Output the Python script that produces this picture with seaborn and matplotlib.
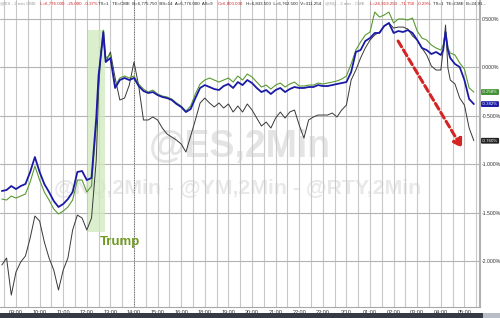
import numpy as np
import pandas as pd
import matplotlib
matplotlib.use("Agg")
import matplotlib.pyplot as plt
import seaborn as sns
from matplotlib.patches import Rectangle

# time in trading hours after 09:00 (session break compressed)
times = [-0.6, -0.4, -0.2, 0.0, 0.2, 0.4, 0.6, 0.8, 1.0, 1.2, 1.4, 1.6, 1.8, 2.0, 2.2, 2.4, 2.6, 2.8, 3.0, 3.2, 3.4,
         3.5, 3.6, 3.7, 3.8,
         4.0, 4.2, 4.4, 4.6, 4.8, 5.0, 5.2, 5.4, 5.6, 5.8, 6.0, 6.2, 6.4, 6.6, 6.8, 7.0, 7.2, 7.4, 7.6, 7.8,
         8.0, 8.2, 8.4, 8.6, 8.8, 9.0, 9.2, 9.4, 9.6, 9.8, 10.0, 10.2, 10.4, 10.6, 10.8, 11.0, 11.2, 11.4, 11.6, 11.8,
         12.0, 12.2, 12.4, 12.6, 12.8, 13.0, 13.2, 13.4, 13.6, 13.8, 14.0, 14.2, 14.4, 14.6, 14.8, 15.0, 15.2, 15.4,
         15.6, 15.8, 16.0, 16.2, 16.4, 16.6, 16.8, 17.0, 17.2, 17.4, 17.6, 17.8, 18.0,
         18.1, 18.2, 18.3,
         18.4, 18.6, 18.8, 19.0, 19.2, 19.4]

es = [-1.278, -1.268, -1.227, -1.258, -1.227, -1.206, -1.082, -0.928, -1.082, -1.206, -1.289, -1.381, -1.443, -1.412,
      -1.361, -1.289, -1.082, -1.072, -1.165, -1.144, -0.526,
      -0.082, 0.124, 0.361, 0.052,
      0.093, -0.216, -0.134, -0.113, -0.134, -0.113, -0.196, -0.247, -0.268, -0.258, -0.289, -0.309, -0.320, -0.340,
      -0.381, -0.412, -0.464, -0.433, -0.320, -0.216, -0.186, -0.206, -0.227, -0.237, -0.196, -0.175, -0.216, -0.155,
      -0.186, -0.134, -0.165, -0.216, -0.258, -0.237, -0.278, -0.237, -0.216, -0.258, -0.227, -0.206, -0.216, -0.216,
      -0.206, -0.206, -0.186, -0.196, -0.196, -0.186, -0.175, -0.165, -0.155, -0.052, 0.155, 0.175, 0.268, 0.299,
      0.351, 0.351, 0.423, 0.454, 0.351, 0.371, 0.361, 0.381, 0.351, 0.278, 0.196, 0.175, 0.134, 0.155, 0.124,
      0.175, 0.361, 0.175,
      0.093, 0.031, 0.000, -0.134, -0.330, -0.382]

nq = [-1.361, -1.371, -1.330, -1.351, -1.330, -1.309, -1.186, -1.021, -1.165, -1.289, -1.371, -1.464, -1.515, -1.485,
      -1.443, -1.371, -1.165, -1.165, -1.289, -1.227, -0.598,
      -0.113, 0.175, 0.381, 0.093,
      0.124, -0.196, -0.113, -0.093, -0.113, -0.093, -0.175, -0.227, -0.258, -0.237, -0.278, -0.299, -0.309, -0.330,
      -0.371, -0.402, -0.454, -0.402, -0.278, -0.175, -0.134, -0.113, -0.134, -0.155, -0.134, -0.113, -0.155, -0.093,
      -0.134, -0.072, -0.103, -0.155, -0.206, -0.186, -0.227, -0.186, -0.165, -0.206, -0.175, -0.155, -0.196, -0.196,
      -0.186, -0.186, -0.165, -0.175, -0.165, -0.155, -0.144, -0.124, -0.093, 0.031, 0.175, 0.258, 0.330, 0.361,
      0.567, 0.515, 0.536, 0.567, 0.454, 0.495, 0.495, 0.485, 0.505, 0.371, 0.299, 0.278, 0.227, 0.196, 0.175,
      0.227, 0.361, 0.196,
      0.144, 0.124, 0.041, -0.021, -0.216, -0.258]

rty = [-2.041, -1.969, -2.351, -2.113, -2.010, -1.948, -1.763, -1.536, -1.588, -1.804, -1.969, -2.093, -2.299, -2.093,
       -1.969, -1.680, -1.526, -1.557, -1.680, -1.557, -0.959,
       -0.237, 0.155, 0.299, 0.052,
       0.155, -0.113, -0.340, -0.320, -0.186, 0.052, -0.196, -0.546, -0.546, -0.515, -0.546, -0.629, -0.691, -0.722,
       -0.753, -0.794, -0.876, -0.711, -0.546, -0.371, -0.320, -0.371, -0.412, -0.371, -0.423, -0.381, -0.464, -0.402,
       -0.464, -0.381, -0.443, -0.526, -0.608, -0.567, -0.629, -0.526, -0.464, -0.526, -0.464, -0.443, -0.598, -0.732,
       -0.546, -0.515, -0.495, -0.495, -0.495, -0.474, -0.515, -0.443, -0.392, -0.134, -0.031, 0.093, 0.196, 0.278,
       0.330, 0.361, 0.423, 0.454, 0.402, 0.412, 0.412, 0.392, 0.320, 0.278, 0.196, 0.124, 0.010, -0.031, -0.031,
       0.175, 0.433, -0.010,
       -0.134, -0.175, -0.320, -0.392, -0.629, -0.760]

x_tick_labels = ["09:00", "10:00", "11:00", "12:00", "13:00", "14:00", "15:00", "16:00", "18:00", "19:00",
                 "20:00", "21:00", "22:00", "23:00", "3/10", "01:00", "02:00", "03:00", "04:00", "05:00"]
y_tick_vals = [0.5, 0.0, -0.5, -1.0, -1.5, -2.0]
y_tick_labels = ["0.500%", "0.000%", "-0.500%", "-1.000%", "-1.500%", "-2.000%"]

last_labels = ["-0.258%", "-0.382%", "-0.760%"]

sns.set_style("white")
plt.rcParams['font.family'] = ['Liberation Sans', 'DejaVu Sans']

fig = plt.figure(figsize=(5.0, 3.18), dpi=100)
fig.patch.set_facecolor("white")
ax = fig.add_axes([0.0, 11 / 318, 480 / 500, 307 / 318])

# watermarks
ax.text(0.5, 0.52, "@ES,2Min", transform=ax.transAxes, fontsize=27, fontweight="bold",
        color="#e4e4e4", ha="center", va="center", zorder=0)
ax.text(0.495, 0.385, "@NQ,2Min - @YM,2Min - @RTY,2Min", transform=ax.transAxes, fontsize=15.3,
        fontweight="bold", color="#e8e8e8", ha="center", va="center", zorder=0)

# Trump highlight
ax.add_patch(Rectangle((3.05, -1.70), 0.72, 2.08, facecolor="#cfeabf", alpha=0.75, edgecolor="none", zorder=1))
ax.text(3.55, -1.80, "Trump", color="#6e9a1e", fontsize=9.5, fontweight="bold", ha="left", va="center", zorder=6)

sns.lineplot(x=times, y=rty, ax=ax, color="#383838", linewidth=0.7, zorder=3)
sns.lineplot(x=times, y=nq, ax=ax, color="#5a9a32", linewidth=0.8, zorder=4)
sns.lineplot(x=times, y=es, ax=ax, color="#1a1aa6", linewidth=1.3, zorder=5)

ax.set_xlim(-0.678, 19.66)
ax.set_ylim(-2.474, 0.691)

ax.set_xticks(list(range(len(x_tick_labels))))
ax.set_xticklabels(x_tick_labels)
ax.set_xticks([i + 0.5 for i in range(-1, len(x_tick_labels))], minor=True)
ax.set_yticks(y_tick_vals)
ax.set_yticklabels(y_tick_labels)
ax.yaxis.tick_right()
ax.tick_params(axis="y", which="both", length=0, labelsize=3.7, pad=1.3, labelcolor="#333333")
ax.tick_params(axis="x", which="both", length=0, labelsize=4.0, pad=2.0, labelcolor="#333333")
ax.grid(True, axis="x", which="both", color="#c8c8c8", linewidth=0.8)
ax.grid(True, axis="y", which="major", color="#b4b4b4", linewidth=0.8)
ax.set_xlabel("")
ax.set_ylabel("")
for s in ["top", "left"]:
    ax.spines[s].set_visible(False)
ax.spines["right"].set_color("#b0b0b0")
ax.spines["right"].set_linewidth(1.5)
ax.spines["bottom"].set_color("#a8a8a8")
ax.spines["bottom"].set_linewidth(0.8)

ax.axvline(5.0, color="#666666", linestyle=(0, (1, 1.5)), linewidth=0.7, zorder=2)

# red dashed arrow
ax.annotate("", xy=(18.9, -0.835), xytext=(16.19, 0.268),
            arrowprops=dict(arrowstyle="-|>,head_length=0.5,head_width=0.3", color="#d42424",
                            linewidth=2.2, linestyle=(0, (2.2, 1.2)), shrinkA=0, shrinkB=0), zorder=7)

# last value tags
for val, lab, col in [(nq[-1], last_labels[0], "#3f8f2f"), (es[-1], last_labels[1], "#1a1aa6"),
                      (rty[-1], last_labels[2], "#222222")]:
    ax.annotate(lab, xy=(1.0, val), xycoords=("axes fraction", "data"), xytext=(1.4, 0),
                textcoords="offset points", fontsize=3.2, color="white", va="center", ha="left",
                bbox=dict(boxstyle="round,pad=0.2", facecolor=col, edgecolor="none"),
                annotation_clip=False, zorder=8)

# header
hy = 1 - 3.5 / 318
header = [
    (0, "@ES - 2 min CME", "#9a9a9a"),
    (40, "L=6,776.000  -25.000  -0.37%", "#cc2222"),
    (98, "TS=1   TE=CME  B=6,775.750  BS=14  A=6,776.000  AS=9", "#222222"),
    (218, "O=6,800.000", "#cc2222"),
    (246, "H=6,833.500  L=6,762.500  V=311,254", "#222222"),
    (325, "@NQ - 2 min - CME", "#9a9a9a"),
    (370, "L=24,919.250  -71.750  -0.29%", "#cc2222"),
    (433, "TS=1  TE=CME  B=24,91...", "#222222"),
]
for xp, txt, col in header:
    fig.text(xp / 500, hy, txt, fontsize=3.2, color=col, ha="left", va="center")

# bottom scrollbar
fig.add_artist(Rectangle((0, 0), 483 / 500, 5 / 318, transform=fig.transFigure, facecolor="#353a45",
                         edgecolor="none"))
fig.add_artist(Rectangle((483 / 500, 0), 17 / 500, 5 / 318, transform=fig.transFigure, facecolor="#b9bdc5",
                         edgecolor="none"))

fig.savefig("out.png", dpi=100, facecolor="white")
